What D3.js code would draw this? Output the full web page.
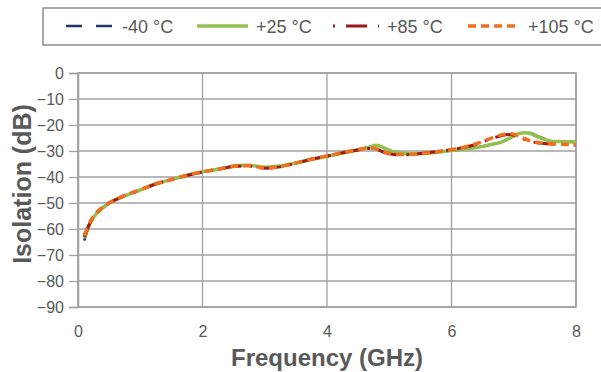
<!DOCTYPE html>
<html>
<head>
<meta charset="utf-8">
<script src="https://cdn.jsdelivr.net/npm/d3@7"></script>
<style>
  body { margin: 0; background: #fff; }
  text { font-family: "Liberation Sans", Arial, sans-serif; fill: #595959; }
</style>
</head>
<body>
<div id="chart"></div>
<script>
// frequency points (GHz)
var freq = [0.1, 0.2, 0.3, 0.5, 0.75, 1.0, 1.25, 1.5, 1.75, 2.0, 2.25, 2.5, 2.75, 3.0, 3.25, 3.5, 3.75, 4.0,
            4.25, 4.5, 4.65, 4.8, 4.95, 5.1, 5.3, 5.5, 5.75, 6.0, 6.2, 6.4, 6.6, 6.8, 6.95, 7.1, 7.25, 7.4, 7.6, 7.8, 8.0];

var isoM40 = [-64.5, -57.8, -54.2, -50.1, -47.3, -45.1, -42.7, -41.0, -39.3, -38.0, -37.0, -35.8, -35.5, -36.2, -35.9, -34.6, -33.2, -32.0,
              -30.8, -29.5, -28.7, -27.9, -29.2, -30.5, -31.0, -31.0, -30.5, -29.8, -29.3, -28.7, -27.8, -26.7, -24.9, -23.2, -22.9, -24.5, -26.0, -26.3, -26.5];
var iso25 = [-63.5, -57.5, -54.0, -50.0, -47.2, -45.0, -42.6, -41.0, -39.3, -38.0, -37.0, -35.8, -35.5, -36.2, -35.8, -34.6, -33.2, -32.0,
             -30.8, -29.5, -28.7, -27.8, -29.2, -30.5, -31.0, -31.0, -30.5, -29.8, -29.3, -28.7, -27.7, -26.6, -24.8, -23.2, -23.2, -24.7, -26.2, -26.4, -26.6];
var iso85 = [-63.0, -57.3, -53.8, -50.0, -47.2, -45.0, -42.7, -41.1, -39.4, -38.1, -37.1, -36.0, -35.8, -36.6, -36.1, -34.7, -33.2, -32.0,
             -30.7, -29.6, -29.0, -29.4, -30.8, -31.4, -31.4, -31.0, -30.3, -29.5, -28.6, -27.4, -25.6, -24.1, -23.7, -24.8, -26.2, -26.9, -27.3, -27.5, -27.7];
var iso105 = [-62.5, -57.0, -53.6, -49.9, -47.1, -44.9, -42.6, -41.0, -39.3, -38.0, -37.0, -35.9, -35.7, -36.5, -36.0, -34.6, -33.1, -31.9,
              -30.6, -29.5, -28.9, -29.2, -30.6, -31.2, -31.3, -31.0, -30.3, -29.4, -28.5, -27.2, -25.4, -23.8, -23.3, -24.5, -26.0, -26.8, -27.2, -27.4, -27.6];

var seriesNames = ["-40 °C", "+25 °C", "+85 °C", "+105 °C"];
var xTicks = [0, 2, 4, 6, 8];
var yTicks = [0, -10, -20, -30, -40, -50, -60, -70, -80, -90];

var series = [
  { name: seriesNames[0], values: isoM40, color: "#1f3864", width: 2.5, dash: "16,14" },
  { name: seriesNames[1], values: iso25, color: "#92c050", width: 3.5, dash: null },
  { name: seriesNames[2], values: iso85, color: "#9b1b1b", width: 3, dash: "21,8,3,8" },
  { name: seriesNames[3], values: iso105, color: "#f07020", width: 3.5, dash: "8,5" }
];

var W = 601, H = 372;
var margin = { top: 73, right: 25, bottom: 65, left: 78 },
    width = W - margin.left - margin.right,
    height = H - margin.top - margin.bottom;

var svg = d3.select("#chart").append("svg")
    .attr("width", W)
    .attr("height", H);

var g = svg.append("g")
    .attr("transform", "translate(" + margin.left + "," + margin.top + ")");

var x = d3.scaleLinear().domain([0, 8]).range([0, width]);
var y = d3.scaleLinear().domain([-90, 0]).range([height, 0]);

// grid
g.append("g")
    .selectAll("line.h")
    .data(yTicks)
    .enter().append("line")
    .attr("x1", 0).attr("x2", width)
    .attr("y1", function (d) { return y(d); })
    .attr("y2", function (d) { return y(d); })
    .style("stroke", "#a0a0a0").style("stroke-width", 1.3);

g.append("g")
    .selectAll("line.v")
    .data(xTicks)
    .enter().append("line")
    .attr("y1", 0).attr("y2", height)
    .attr("x1", function (d) { return x(d); })
    .attr("x2", function (d) { return x(d); })
    .style("stroke", "#a0a0a0").style("stroke-width", 1.3);

g.append("rect")
    .attr("width", width).attr("height", height)
    .style("fill", "none").style("stroke", "#a0a0a0").style("stroke-width", 1.5);

// axes
var yAxis = g.append("g")
    .call(d3.axisLeft(y).tickValues(yTicks).tickSize(9).tickPadding(5));
yAxis.select(".domain").style("stroke", "#a0a0a0").style("stroke-width", 1.5);
yAxis.selectAll(".tick line").style("stroke", "#a0a0a0").style("stroke-width", 1.3);
yAxis.selectAll("text").style("font-size", "16px").style("fill", "#595959")
    .style("font-family", "'Liberation Sans', Arial, sans-serif");

var xAxis = g.append("g")
    .attr("transform", "translate(0," + height + ")")
    .call(d3.axisBottom(x).tickValues(xTicks).tickSize(0).tickPadding(19));
xAxis.select(".domain").remove();
xAxis.selectAll("text").style("font-size", "16px").style("fill", "#595959")
    .style("font-family", "'Liberation Sans', Arial, sans-serif");

// lines
var line = d3.line()
    .curve(d3.curveCatmullRom.alpha(0.5))
    .x(function (d) { return x(d[0]); })
    .y(function (d) { return y(d[1]); });

series.forEach(function (s) {
  g.append("path")
      .datum(freq.map(function (f, i) { return [f, s.values[i]]; }))
      .attr("d", line)
      .style("fill", "none")
      .style("stroke", s.color)
      .style("stroke-width", s.width)
      .style("stroke-dasharray", s.dash);
});

// axis titles
svg.append("text")
    .attr("x", margin.left + width / 2)
    .attr("y", 366)
    .attr("text-anchor", "middle")
    .style("font-size", "24px").style("font-weight", "bold")
    .text("Frequency (GHz)");

svg.append("text")
    .attr("transform", "translate(31," + (margin.top + height / 2 - 6) + ") rotate(-90)")
    .attr("text-anchor", "middle")
    .style("font-size", "25px").style("font-weight", "bold")
    .text("Isolation (dB)");

// legend
svg.append("rect")
    .attr("x", 43).attr("y", 8).attr("width", 570).attr("height", 37)
    .style("fill", "#fff").style("stroke", "#8c8c8c").style("stroke-width", 1.5);

var legX = [66, 197, 333, 468];
var legW = [48, 51, 46, 52];
series.forEach(function (s, i) {
  svg.append("line")
      .attr("x1", legX[i]).attr("x2", legX[i] + legW[i])
      .attr("y1", 26).attr("y2", 26)
      .style("stroke", s.color)
      .style("stroke-width", s.width)
      .style("stroke-dasharray", i === 2 ? "2,11,21,11,2" : s.dash);
  svg.append("text")
      .attr("x", legX[i] + legW[i] + 8)
      .attr("y", 33)
      .style("font-size", "18px")
      .text(s.name);
});
</script>
</body>
</html>
